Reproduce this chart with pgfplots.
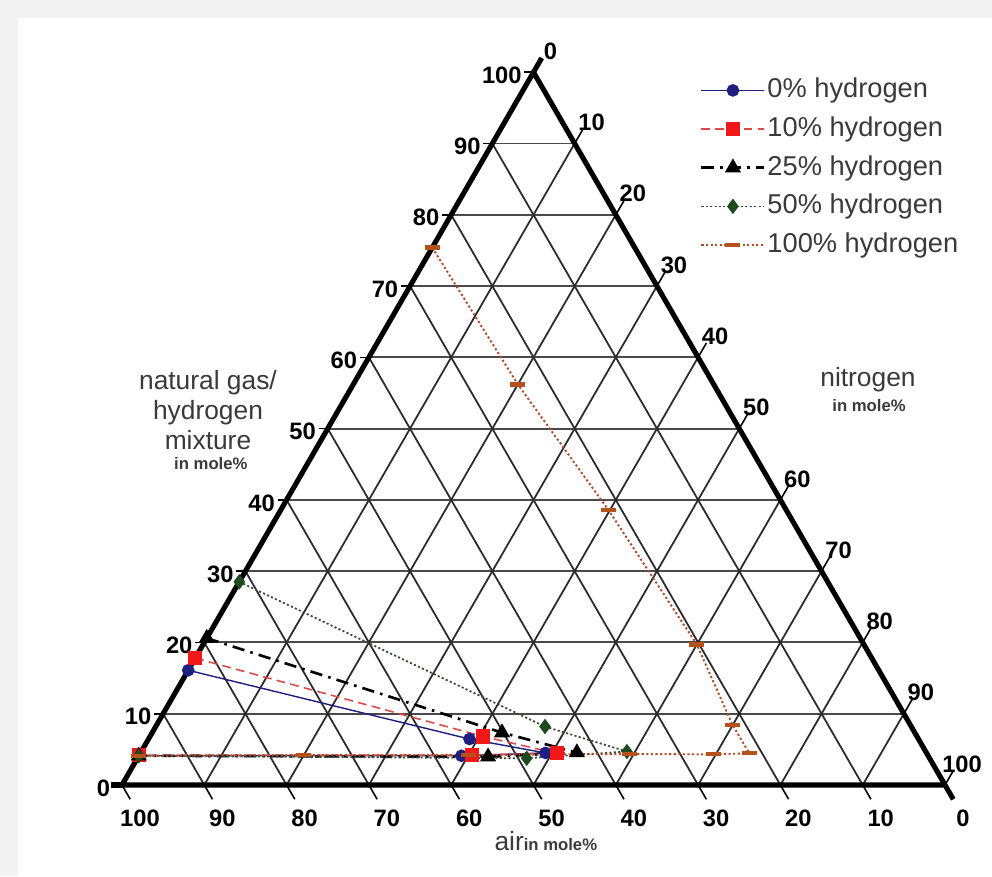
\documentclass[border=0pt]{standalone}
\usepackage{pgfplots}
\pgfplotsset{compat=1.18}
\usepackage{pgfplotstable}
\usepackage{fontspec}
\setmainfont{Liberation Sans}

\definecolor{navyc}{HTML}{1F1F80}
\definecolor{redc}{HTML}{F01818}
\definecolor{redl}{HTML}{E04848}
\definecolor{greenc}{HTML}{1E4A1E}
\definecolor{greenl}{HTML}{3A4A3A}
\definecolor{brownc}{HTML}{B5521C}
\definecolor{brownl}{HTML}{B04A2A}
\definecolor{gridc}{HTML}{2A2A2A}
\definecolor{titlec}{HTML}{3A3A3A}
\definecolor{bgc}{HTML}{F2F2F2}

% ternary data: g = natural gas/hydrogen mixture, n = nitrogen (mole %)
\pgfplotstableread{
g n
16.1 0
6.45 39.0
4.5 49.2
4.1 39.2
4.1 0
}\hzero
\pgfplotstableread{
g n
17.8 0
6.8 40.5
4.45 50.6
4.2 40.4
4.2 0
}\hten
\pgfplotstableread{
g n
20.6 0
7.35 42.5
4.55 53.0
3.97 42.5
4.1 0
}\htwentyfive
\pgfplotstableread{
g n
28.5 0
8.2 47.3
4.7 59.0
3.75 47.3
4.1 0
}\hfifty
\pgfplotstableread{
g n
75.4 0
56.2 20.0
38.6 39.8
19.7 60.0
8.4 70.0
4.45 74.0
4.3 69.7
4.35 59.5
4.2 40.0
4.2 20.0
4.1 0
}\hhundred

\newcommand{\ticklbl}{\bfseries\fontsize{13.5}{15}\selectfont}

\begin{document}
\begin{tikzpicture}
\begin{axis}[
  x=0.1646cm, y=0.1646cm,
  xmin=-14.82, xmax=105.71, ymin=-11.06, ymax=95.38,
  hide axis, clip=false,
  legend cell align=left,
  legend image code/.code={\draw[mark repeat=2,mark phase=2] plot coordinates {(0cm,0cm) (0.63cm,0cm) (1.26cm,0cm)};},
  legend style={at={(axis cs:70.2,86.2)}, anchor=north west, draw=none, fill=none,
    font=\fontsize{15.5}{17}\selectfont, text=titlec, row sep=5.5pt, inner sep=0pt,
    nodes={inner sep=1pt, text height=11.5pt, text depth=3pt},
    /tikz/every even column/.append style={column sep=3pt}},
]
% background
\fill[bgc] (axis cs:-14.82,-11.06) rectangle (axis cs:105.71,95.38);
\fill[white] (axis cs:-12.6,-11.06) rectangle (axis cs:105.71,93.2);
\coordinate (bbsw) at (axis cs:-14.82,-11.06);
\coordinate (bbne) at (axis cs:105.71,95.38);

% grid
\pgfplotsinvokeforeach{10,20,30,40,50,60,70,80,90}{
  \draw[gridc!85, line width=1.1pt] (axis cs:{#1/2},{0.8660254*#1}) -- (axis cs:{100-#1/2},{0.8660254*#1});
  \draw[gridc, line width=1.0pt] (axis cs:{#1},0) -- (axis cs:{#1+(100-#1)/2},{0.8660254*(100-#1)});
  \draw[gridc, line width=1.0pt] (axis cs:{#1},0) -- (axis cs:{#1/2},{0.8660254*#1});
}
% ticks and labels
\pgfplotsinvokeforeach{0,10,20,30,40,50,60,70,80,90,100}{
  \draw[black, line width=0.9pt] (axis cs:{#1/2},{0.8660254*#1}) -- (axis cs:{#1/2-1.1},{0.8660254*#1});
  \node[anchor=east, font=\ticklbl, inner sep=0pt] at (axis cs:{#1/2-1.4},{0.8660254*#1-0.36}) {#1};
  \draw[black, line width=0.9pt] (axis cs:{50+#1/2},{0.8660254*(100-#1)}) -- (axis cs:{50+#1/2+1.0},{0.8660254*(100-#1)+1.73});
  \node[font=\ticklbl, inner sep=0pt] at (axis cs:{50+#1/2+2.07},{0.8660254*(100-#1)+2.55}) {#1};
  \draw[black, line width=0.9pt] (axis cs:{100-#1},0) -- (axis cs:{100-#1+1.0},-1.73);
  \node[font=\ticklbl, inner sep=0pt] at (axis cs:{100-#1+2.19},-4.0) {#1};
}
% outline and vertex ticks
\draw[black, line width=2.9pt, line join=round] (axis cs:0,0) -- (axis cs:100,0) -- (axis cs:50,86.60254) -- cycle;
\draw[black, line width=2.9pt] (axis cs:0,0) -- (axis cs:-1.3,0);
\draw[black, line width=2.9pt] (axis cs:50,86.60254) -- (axis cs:51.0,88.33);
\draw[black, line width=2.9pt] (axis cs:100,0) -- (axis cs:101.0,-1.73);

% titles
\node[align=center, font=\fontsize{15}{17.2}\selectfont, text=titlec] at (axis cs:10.45,45.57) {natural gas/\\hydrogen\\mixture};
\node[font=\bfseries\fontsize{9.5}{11}\selectfont, text=titlec] at (axis cs:10.8,39.1) {in mole\%};
\node[font=\fontsize{15}{17}\selectfont, text=titlec] at (axis cs:90.64,49.2) {nitrogen};
\node[font=\bfseries\fontsize{9.5}{11}\selectfont, text=titlec] at (axis cs:90.77,46.05) {in mole\%};
\node[anchor=base, text=titlec] at (axis cs:51.5,-7.9) {{\fontsize{15}{17}\selectfont air}{\bfseries\fontsize{9.5}{11}\selectfont in mole\%}};

% data
\addplot[navyc, line width=0.8pt, mark=*, mark size=3.2pt, mark options={solid, fill=navyc}]
  table[x expr=\thisrow{n}+0.5*\thisrow{g}, y expr=0.8660254*\thisrow{g}] {\hzero};
\addlegendentry{0\% hydrogen}
\addplot[redl, line width=0.9pt, dash pattern=on 5pt off 3pt, mark=square*, mark size=3.6pt, mark options={solid, fill=redc, draw=redc}]
  table[x expr=\thisrow{n}+0.5*\thisrow{g}, y expr=0.8660254*\thisrow{g}] {\hten};
\addlegendentry{10\% hydrogen}
\addplot[black, line width=1.5pt, dash pattern=on 7pt off 3.5pt on 1.5pt off 3.5pt, mark=triangle*, mark size=3.8pt, mark options={solid, fill=black}]
  table[x expr=\thisrow{n}+0.5*\thisrow{g}, y expr=0.8660254*\thisrow{g}] {\htwentyfive};
\addlegendentry{25\% hydrogen}
\addplot[greenl, line width=1pt, dash pattern=on 1.2pt off 1.3pt, mark=diamond*, mark size=3.6pt, mark options={solid, fill=greenc, draw=greenc}]
  table[x expr=\thisrow{n}+0.5*\thisrow{g}, y expr=0.8660254*\thisrow{g}] {\hfifty};
\addlegendentry{50\% hydrogen}
\addplot[brownl, line width=1.1pt, dash pattern=on 1.2pt off 1.4pt, mark=-, mark size=4.3pt, mark options={solid, draw=brownc, line width=2.4pt}]
  table[x expr=\thisrow{n}+0.5*\thisrow{g}, y expr=0.8660254*\thisrow{g}] {\hhundred};
\addlegendentry{100\% hydrogen}
\end{axis}
\pgfresetboundingbox
\path (bbsw) rectangle (bbne);
\end{tikzpicture}
\end{document}
